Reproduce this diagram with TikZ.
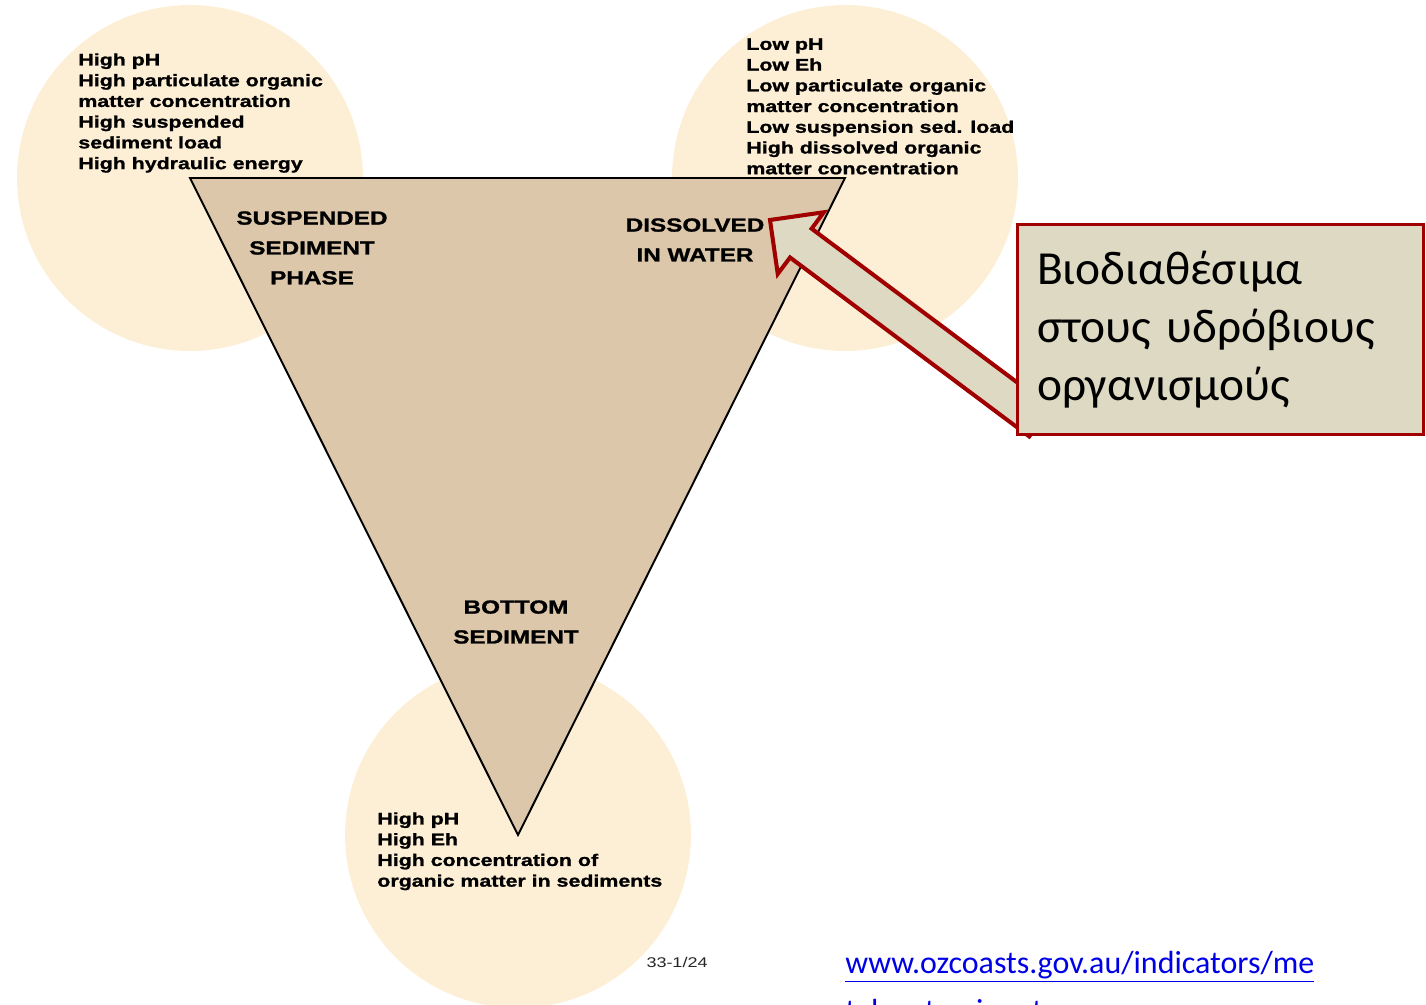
\documentclass[tikz,border=0pt]{standalone}
\usepackage{fontspec}
\setmainfont{Liberation Sans}
\newfontfamily\widefont{Liberation Sans}[FakeStretch=1.28, BoldFeatures={FakeBold=1.2}]
\newfontfamily\calloutfont{Carlito}
\usetikzlibrary{calc,positioning}

\definecolor{zonefill}{RGB}{253,239,214}
\definecolor{phasefill}{RGB}{220,199,170}
\definecolor{calloutfill}{RGB}{221,217,195}
\definecolor{calloutred}{RGB}{160,0,0}
\definecolor{linkblue}{RGB}{0,0,230}

\tikzset{
  zone/.style={circle, fill=zonefill, minimum size=6.92cm, inner sep=0pt},
  conditions/.style={anchor=north west, align=left, inner sep=0pt, font=\widefont\bfseries\fontsize{9.5}{11.8}\selectfont},
  phase/.style={anchor=north, align=center, inner sep=0pt, font=\widefont\bfseries\fontsize{10.8}{17}\selectfont},
  callout/.style={draw=calloutred, line width=1.7pt, fill=calloutfill, minimum width=8.14cm, minimum height=4.22cm, text width=7.34cm, inner xsep=0.4cm, align=left, font=\calloutfont\fontsize{27}{33}\selectfont},
  pointer/.style={draw=calloutred, line width=2.3pt, fill=calloutfill, line join=miter}
}

\begin{document}
\begin{tikzpicture}[x=0.02cm, y=-0.02cm]
\path[use as bounding box, clip] (0,0) rectangle (1426,1004);

% zones
\node[zone] (cl) at (190,178) {};
\node[zone] (cr) at (845,178) {};
\node[zone] (cb) at (518,835) {};

% triangle
\draw[fill=phasefill, line width=1.1pt, line join=miter] (cl.center) -- (cr.center) -- (cb.center) -- cycle;

% conditions
\node[conditions] (clist) at (78,53) {High pH\\High particulate organic\\matter concentration\\High suspended\\sediment load\\High hydraulic energy};
\node[conditions] (rlist) at (746,38) {Low pH\\Low Eh\\Low particulate organic\\matter concentration\\Low suspension sed. load\\High dissolved organic\\matter concentration};
\node[conditions] (blist) at (377,812) {High pH\\High Eh\\High concentration of\\organic matter in sediments};

% phases
\node[phase] (suspended) at (312,211) {SUSPENDED\\SEDIMENT\\PHASE};
\node[phase] (dissolved) at (695,218) {DISSOLVED\\IN WATER};
\node[phase] (bottom) at (516,600) {BOTTOM\\SEDIMENT};

\node[font=\widefont\fontsize{8}{9}\selectfont, text=black!85] (figno) at (677,962) {33-1/24};

% arrow
\coordinate (tip) at (770,220);
\coordinate (tail) at (1040,422);
\coordinate (hb) at ($(tip)!0.77cm!(tail)$);
\draw[pointer] (tip)
  -- ($(hb)!0.77cm!90:(tip)$)
  -- ($(hb)!0.36cm!90:(tip)$)
  -- ($(tail)!0.36cm!90:(tip)$)
  -- ($(tail)!0.36cm!-90:(tip)$)
  -- ($(hb)!0.36cm!-90:(tip)$)
  -- ($(hb)!0.77cm!-90:(tip)$)
  -- cycle;

% callout
\node[callout] (avail) at (1220.5,329.5) {Βιοδιαθέσιμα\\στους υδρόβιους\\οργανισμούς};

% source
\node[anchor=north west, align=left, inner sep=0pt, text=linkblue, font=\calloutfont\fontsize{18.2}{27}\selectfont] (source) at (845,951) {\underline{www.ozcoasts.gov.au/indicators/me}\\\underline{talcontaminants.gsp}};
\end{tikzpicture}
\end{document}
